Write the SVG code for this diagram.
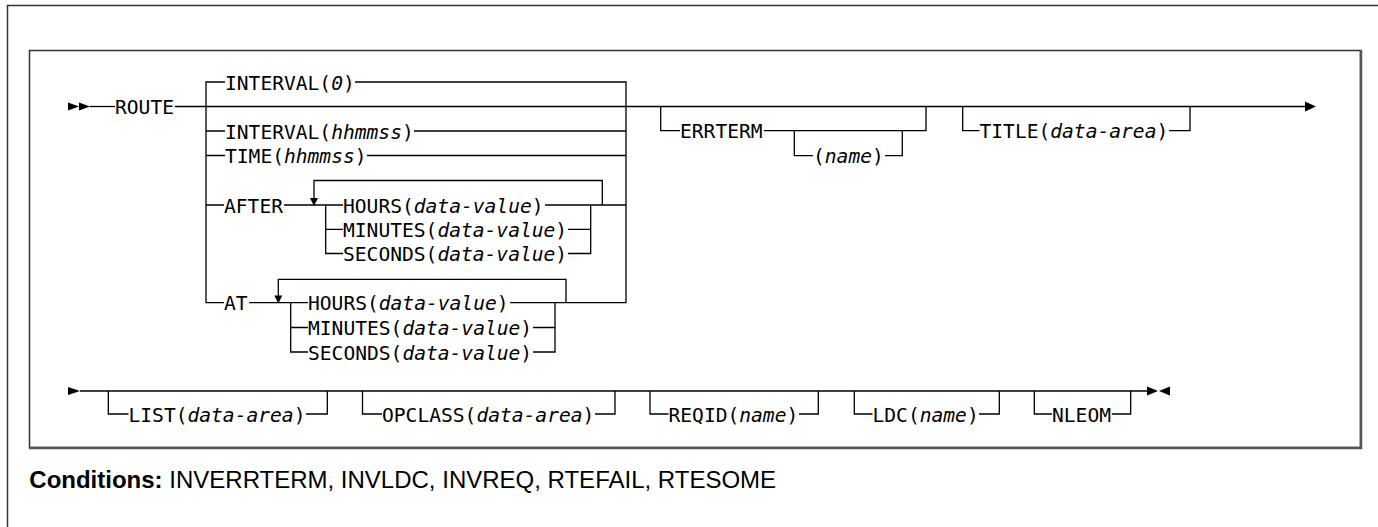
<svg xmlns="http://www.w3.org/2000/svg" width="1378" height="527" viewBox="0 0 1378 527">
<style>
.t{font-family:"DejaVu Sans Mono","Liberation Mono",monospace;font-size:19.6px;fill:#000}
.i{font-style:italic}
.c{stroke:#000;stroke-width:1.3;fill:none}
.h{fill:#000}
.cond{font-family:"Liberation Sans",Arial,sans-serif;font-size:24px;fill:#000}
</style>
<rect width="1378" height="527" fill="#fff"/>
<g id="frame">
<path d="M7.5 527 V5.5 H1378" stroke="#333" stroke-width="1.5" fill="none"/>
<rect x="29.5" y="50.5" width="1331" height="397" fill="none" stroke="#333" stroke-width="1.5"/>
<path d="M1361 50 V448 H29" stroke="#555" stroke-width="2.5" fill="none"/>
</g>
<g id="connectors">
<polygon class="h" points="68,102.5 79,106.5 68,110.5"/>
<polygon class="h" points="79,102.5 90,106.5 79,110.5"/>
<path class="c" d="M90 106.5 H115"/>
<path class="c" d="M175 106.5 H1306"/>
<polygon class="h" points="1305,101.5 1316,106.5 1305,111.5"/>
<path class="c" d="M225 82 H206 V302.7 H224"/>
<path class="c" d="M206 131 H225 M206 155.5 H225 M206 205 H224"/>
<path class="c" d="M355 82 H626 V302.7 H510"/>
<path class="c" d="M414 131 H626 M367 155.5 H626 M545 205 H626"/>
<path class="c" d="M284 205 H343 M325.7 205 V253.5 H343 M325.7 229.3 H343"/>
<path class="c" d="M314 199 V180.5 H602.3 V205"/>
<polygon class="h" points="310,198 318,198 314,206"/>
<path class="c" d="M568 229.3 H590.7 M568 253.5 H590.7 V205"/>
<path class="c" d="M249 302.7 H308 M290.7 302.7 V352 H308 M290.7 327.5 H308"/>
<path class="c" d="M278.3 296 V279.3 H566 V302.7"/>
<polygon class="h" points="274.3,295.5 282.3,295.5 278.3,303.5"/>
<path class="c" d="M533 327.5 H555 M533 352 H555 V302.7"/>
<path class="c" d="M660.7 106.5 V130.7 H680 M764 130.7 H926 V106.5"/>
<path class="c" d="M794.3 130.7 V155.7 H813 M885 155.7 H902.3 V130.7"/>
<path class="c" d="M962.7 106.5 V130.7 H979.5 M1169 130.7 H1190 V106.5"/>
<polygon class="h" points="68,387 80,391 68,395"/>
<path class="c" d="M80 391 H1148"/>
<polygon class="h" points="1147,386.5 1158,391 1147,395.5"/>
<polygon class="h" points="1170,386.5 1159,391 1170,395.5"/>
<path class="c" d="M108.3 391 V414 H128.5 M306 414 H327.3 V391"/>
<path class="c" d="M362.5 391 V414 H382 M595 414 H615 V391"/>
<path class="c" d="M650 391 V414 H668.5 M799 414 H818.3 V391"/>
<path class="c" d="M854.3 391 V414 H872.5 M979 414 H999.3 V391"/>
<path class="c" d="M1034.3 391 V414 H1052 M1112 414 H1130.7 V391"/>
</g>
<g id="n-route"><text class="t" x="115" y="114">ROUTE</text></g>
<g id="n-interval0"><text class="t" x="225" y="89.5">INTERVAL(<tspan class="i">0</tspan>)</text></g>
<g id="n-interval"><text class="t" x="225" y="138.5">INTERVAL(<tspan class="i">hhmmss</tspan>)</text></g>
<g id="n-time"><text class="t" x="225" y="163">TIME(<tspan class="i">hhmmss</tspan>)</text></g>
<g id="n-after"><text class="t" x="224" y="212.5">AFTER</text></g>
<g id="n-after-hours"><text class="t" x="343" y="212.5">HOURS(<tspan class="i">data-value</tspan>)</text></g>
<g id="n-after-minutes"><text class="t" x="343" y="236.8">MINUTES(<tspan class="i">data-value</tspan>)</text></g>
<g id="n-after-seconds"><text class="t" x="343" y="261">SECONDS(<tspan class="i">data-value</tspan>)</text></g>
<g id="n-at"><text class="t" x="224" y="310.2">AT</text></g>
<g id="n-at-hours"><text class="t" x="308" y="310.2">HOURS(<tspan class="i">data-value</tspan>)</text></g>
<g id="n-at-minutes"><text class="t" x="308" y="335">MINUTES(<tspan class="i">data-value</tspan>)</text></g>
<g id="n-at-seconds"><text class="t" x="308" y="359.5">SECONDS(<tspan class="i">data-value</tspan>)</text></g>
<g id="n-errterm"><text class="t" x="680" y="138.2">ERRTERM</text></g>
<g id="n-name"><text class="t" x="813" y="163.2">(<tspan class="i">name</tspan>)</text></g>
<g id="n-title"><text class="t" x="979.5" y="138.2">TITLE(<tspan class="i">data-area</tspan>)</text></g>
<g id="n-list"><text class="t" x="128.5" y="421.5">LIST(<tspan class="i">data-area</tspan>)</text></g>
<g id="n-opclass"><text class="t" x="382" y="421.5">OPCLASS(<tspan class="i">data-area</tspan>)</text></g>
<g id="n-reqid"><text class="t" x="668.5" y="421.5">REQID(<tspan class="i">name</tspan>)</text></g>
<g id="n-ldc"><text class="t" x="872.5" y="421.5">LDC(<tspan class="i">name</tspan>)</text></g>
<g id="n-nleom"><text class="t" x="1052" y="421.5">NLEOM</text></g>
<g id="n-conditions"><text class="cond" x="29.3" y="488"><tspan font-weight="bold">Conditions:</tspan> INVERRTERM, INVLDC, INVREQ, RTEFAIL, RTESOME</text></g>
</svg>
